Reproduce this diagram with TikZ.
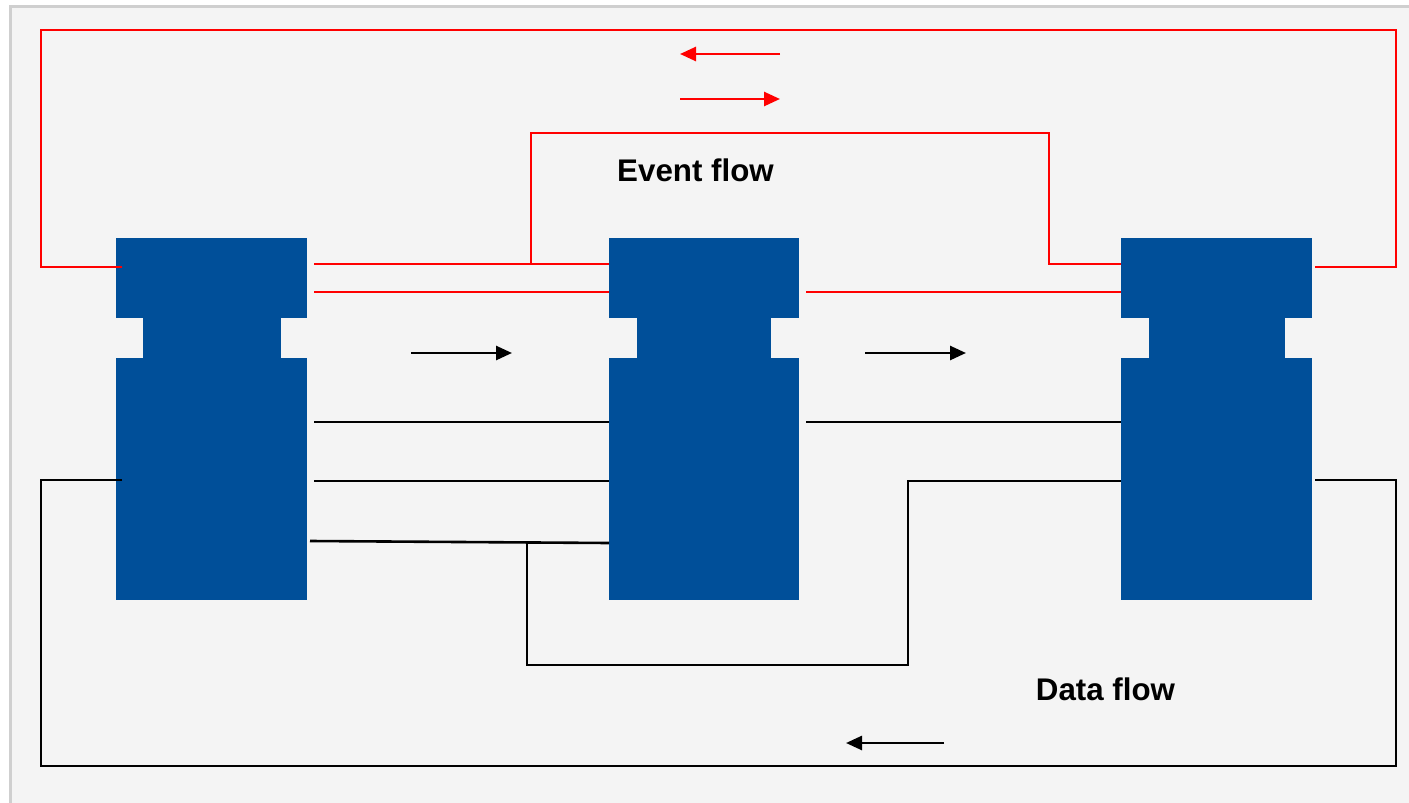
\documentclass[tikz,border=0pt]{standalone}
\usepackage{fontspec}
\setmainfont{Liberation Sans}
\usetikzlibrary{arrows.meta}
\definecolor{bg}{HTML}{F4F4F4}
\definecolor{frame}{HTML}{CFCFCF}
\definecolor{blk}{HTML}{004F99}
\definecolor{evred}{HTML}{FF0000}
\tikzset{
  blockpart/.style={fill=blk, draw=none, inner sep=0, outer sep=0, anchor=north west},
  redline/.style={draw=evred, line width=2.6pt},
  blackline/.style={draw=black, line width=2.6pt},
  redarrow/.style={redline, -{Triangle[length=16pt,width=14pt]}},
  blackarrow/.style={blackline, -{Triangle[length=16pt,width=14pt]}},
  lbl/.style={font=\bfseries\fontsize{31.3}{36}\selectfont, inner sep=0}
}
\begin{document}
\begin{tikzpicture}[x=1pt,y=-1pt]
\useasboundingbox (0,0) rectangle (1409,803);
\fill[white] (0,0) rectangle (1409,803);
\fill[bg] (9,5) rectangle (1409,803);
\draw[frame, line width=3pt] (10.5,803) -- (10.5,6.5) -- (1409,6.5);
% blocks
\foreach \n/\x/\w/\nx/\nw in {1/116/191/143/138, 2/609/190/637/134, 3/1121/191/1149/136}{
  \node[blockpart, minimum width=\w pt, minimum height=80pt] (b\n t) at (\x,238) {};
  \node[blockpart, minimum width=\nw pt, minimum height=41pt] (b\n n) at (\nx,317.5) {};
  \node[blockpart, minimum width=\w pt, minimum height=242pt] (b\n b) at (\x,358) {};
}
% named connector ends
\coordinate (r1a) at (122,267); \coordinate (r1b) at (1315,267);
\coordinate (r2a) at (314,264); \coordinate (r2b) at (609,264);
\coordinate (r2j) at (531,264); \coordinate (r2e) at (1121,264);
\coordinate (r3a) at (314,292); \coordinate (r3b) at (609,292);
\coordinate (r4a) at (806,292); \coordinate (r4b) at (1121,292);
\coordinate (k1a) at (314,422); \coordinate (k1b) at (609,422);
\coordinate (k2a) at (806,422); \coordinate (k2b) at (1121,422);
\coordinate (k3a) at (314,481); \coordinate (k3b) at (609,481);
\coordinate (k4a) at (310,541); \coordinate (k4b) at (609,543);
\coordinate (k4j) at (527,542); \coordinate (k4e) at (1121,481);
\coordinate (k5a) at (122,480); \coordinate (k5b) at (1315,480);
% red event lines
\draw[redline] (r1a) -- (41,267) -- (41,30) -- (1396,30) -- (1396,267) -- (r1b);
\draw[redline] (r2a) -- (r2b);
\draw[redline] (r2j) -- (531,133) -- (1049,133) -- (1049,264) -- (r2e);
\draw[redline] (r3a) -- (r3b);
\draw[redline] (r4a) -- (r4b);
% black data lines
\draw[blackline] (k1a) -- (k1b);
\draw[blackline] (k2a) -- (k2b);
\draw[blackline] (k3a) -- (k3b);
\draw[blackline] (k4a) -- (k4b);
\draw[blackline] (k4j) -- (527,665) -- (908,665) -- (908,481) -- (k4e);
\draw[blackline] (k5a) -- (41,480) -- (41,766) -- (1396,766) -- (1396,480) -- (k5b);
% direction arrows
\coordinate (ra1) at (780,54); \coordinate (ra2) at (680,54);
\coordinate (ra3) at (680,99); \coordinate (ra4) at (780,99);
\coordinate (ka1) at (411,353); \coordinate (ka2) at (512,353);
\coordinate (ka3) at (865,353); \coordinate (ka4) at (966,353);
\coordinate (ka5) at (944,743); \coordinate (ka6) at (846,743);
\draw[redarrow] (ra1) -- (ra2);
\draw[redarrow] (ra3) -- (ra4);
\draw[blackarrow] (ka1) -- (ka2);
\draw[blackarrow] (ka3) -- (ka4);
\draw[blackarrow] (ka5) -- (ka6);
% labels
\node[lbl] (ev) at (695.5,170) {Event flow};
\node[lbl] (df) at (1105.5,689) {Data flow};
\end{tikzpicture}
\end{document}
